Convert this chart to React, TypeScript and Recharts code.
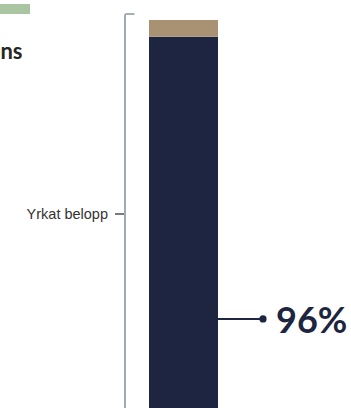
import React from 'react';
import { BarChart, Bar, XAxis, YAxis } from 'recharts';

const categories = ['Yrkat belopp'];
const navyValues = [96];
const tanValues = [4];
const titleText = 'ns';

const data = categories.map((c, i) => ({ name: c, navy: navyValues[i], tan: tanValues[i] }));

const NAVY = '#1d2540';
const TAN = '#a89273';

const PctLabel = (props: any) => {
  const { x, y, width, height, value } = props;
  const ly = y + height * 0.705;
  const x0 = x + width;
  return (
    <g>
      <line x1={x0} y1={ly} x2={x0 + 45} y2={ly} stroke={NAVY} strokeWidth={2} />
      <circle cx={x0 + 45} cy={ly} r={3.6} fill={NAVY} />
      <text x={x0 + 58} y={ly + 14} fill={NAVY} fontFamily="Lato" fontWeight={700} fontSize={36}>
        {value}%
      </text>
    </g>
  );
};

export default function App() {
  return (
    <div style={{ position: 'absolute', left: 0, top: 0, width: 351, height: 408, overflow: 'hidden', background: '#fff' }}>
      <BarChart
        width={351}
        height={437}
        data={data}
        margin={{ top: 20, right: 133, bottom: 0, left: 149 }}
        barCategoryGap="0%"
      >
        <XAxis dataKey="name" type="category" hide />
        <YAxis type="number" domain={[0, 100]} hide />
        <Bar dataKey="navy" stackId="a" fill={NAVY} isAnimationActive={false} label={(p: any) => <PctLabel {...p} />} />
        <Bar dataKey="tan" stackId="a" fill={TAN} isAnimationActive={false} />
      </BarChart>
      <svg width={351} height={408} style={{ position: 'absolute', left: 0, top: 0, pointerEvents: 'none' }}>
        <rect x={0} y={4} width={30} height={10} fill="#a9c5a1" />
        <text x={22.5} y={59} textAnchor="end" fontFamily="Lato" fontWeight={700} fontSize={22} fill="#262626">
          {titleText}
        </text>
        <path d="M 134.5 14 H 126.5 Q 125 14 125 15.5 V 440" fill="none" stroke="#8a96a1" strokeWidth={1.6} />
        <line x1={115} x2={124} y1={214} y2={214} stroke="#333" strokeWidth={1.3} />
        <text x={108} y={219} textAnchor="end" fontFamily="Liberation Sans" fontSize={14.5} fill="#333">
          {categories[0]}
        </text>
      </svg>
    </div>
  );
}
